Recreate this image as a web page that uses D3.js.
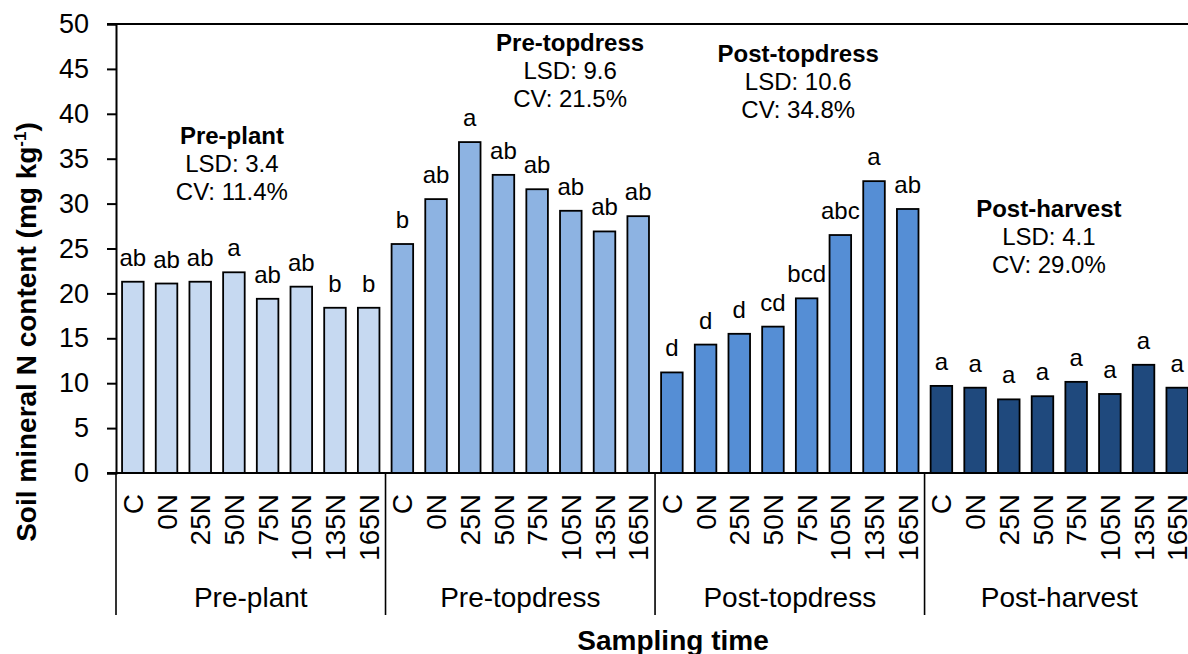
<!DOCTYPE html>
<html>
<head>
<meta charset="utf-8">
<script src="https://cdn.jsdelivr.net/npm/d3@7/dist/d3.min.js"></script>
<style>
  html, body { margin: 0; padding: 0; background: #fff; }
  svg { display: block; font-family: "Liberation Sans", Arial, sans-serif; }
</style>
</head>
<body>
<svg id="chart" width="1188" height="654"></svg>
<script>
// ---------------- data ----------------
const groups = ["Pre-plant", "Pre-topdress", "Post-topdress", "Post-harvest"];
const treatments = ["C", "0N", "25N", "50N", "75N", "105N", "135N", "165N"];

const prePlant     = [21.3, 21.1, 21.3, 22.35, 19.4, 20.75, 18.4, 18.4];
const preTopdress  = [25.5, 30.5, 36.85, 33.2, 31.6, 29.2, 26.9, 28.6];
const postTopdress = [11.2, 14.3, 15.5, 16.3, 19.45, 26.5, 32.5, 29.4];
const postHarvest  = [9.7, 9.5, 8.2, 8.55, 10.15, 8.8, 12.05, 9.5];

const lettersPrePlant     = ["ab", "ab", "ab", "a", "ab", "ab", "b", "b"];
const lettersPreTopdress  = ["b", "ab", "a", "ab", "ab", "ab", "ab", "ab"];
const lettersPostTopdress = ["d", "d", "d", "cd", "bcd", "abc", "a", "ab"];
const lettersPostHarvest  = ["a", "a", "a", "a", "a", "a", "a", "a"];

const lsdValues = ["3.4", "9.6", "10.6", "4.1"];
const cvValues  = ["11.4%", "21.5%", "34.8%", "29.0%"];

const yTicks = [0, 5, 10, 15, 20, 25, 30, 35, 40, 45, 50];

const yTitle = "Soil mineral N content (mg kg";
const xTitle = "Sampling time";

// ---------------- styling / layout ----------------
const groupColors = ["#C6D9F1", "#8DB3E2", "#558ED5", "#1F497D"];
// annotation anchors in (category-slot units, y value) coordinates
const annAnchorSlot = [3.44, 13.48, 20.25, 27.69];
const annAnchorVal  = [36.6, 47.0, 45.8, 28.5];

const series = [prePlant, preTopdress, postTopdress, postHarvest];
const letters = [lettersPrePlant, lettersPreTopdress, lettersPostTopdress, lettersPostHarvest];

const rows = [];
groups.forEach((g, gi) => {
  treatments.forEach((t, ti) => {
    rows.push({ key: g + "|" + t, group: g, gi, treatment: t, value: series[gi][ti], letter: letters[gi][ti] });
  });
});

const svg = d3.select("#chart");
const mLeft = 116, mTop = 24, mBottom = 473;
const slot = 33.69;
const plotRight = mLeft + slot * rows.length;

const x = d3.scaleBand()
  .domain(rows.map(d => d.key))
  .range([mLeft, plotRight])
  .paddingInner(0.36)
  .paddingOuter(0.18);

const xSlot = d3.scaleLinear().domain([0, rows.length]).range([mLeft, plotRight]);

const y = d3.scaleLinear().domain([0, 50]).range([mBottom, mTop]);

// top border line at 50
svg.append("line")
  .attr("x1", mLeft - 9).attr("x2", 1188)
  .attr("y1", y(50)).attr("y2", y(50))
  .attr("stroke", "#000").attr("stroke-width", 2);

// bars
svg.append("g").selectAll("rect")
  .data(rows).join("rect")
  .attr("x", d => x(d.key))
  .attr("y", d => y(d.value))
  .attr("width", x.bandwidth())
  .attr("height", d => y(0) - y(d.value))
  .attr("fill", d => groupColors[d.gi])
  .attr("stroke", "#000")
  .attr("stroke-width", 1.8);

// letters
svg.append("g").selectAll("text")
  .data(rows).join("text")
  .attr("x", d => x(d.key) + x.bandwidth() / 2)
  .attr("y", d => y(d.value) - 16)
  .attr("text-anchor", "middle")
  .attr("font-size", 24)
  .attr("fill", "#000")
  .text(d => d.letter);

// y axis
const yAxis = d3.axisLeft(y).tickValues(yTicks).tickSize(9).tickPadding(18);
const yg = svg.append("g").attr("transform", `translate(${mLeft},0)`).call(yAxis);
yg.select(".domain").attr("stroke", "#000").attr("stroke-width", 2);
yg.selectAll(".tick line").attr("stroke", "#000").attr("stroke-width", 2);
yg.selectAll(".tick text").attr("font-size", 27).attr("font-family", "Liberation Sans, Arial, sans-serif").attr("fill", "#000");

// baseline
svg.append("line")
  .attr("x1", mLeft - 9).attr("x2", 1188)
  .attr("y1", y(0)).attr("y2", y(0))
  .attr("stroke", "#000").attr("stroke-width", 2);

// category labels (rotated)
const catFont = 28;
svg.append("g").selectAll("text")
  .data(rows).join("text")
  .attr("transform", d => `translate(${x(d.key) + x.bandwidth() / 2 + catFont * 0.36},494) rotate(-90)`)
  .attr("text-anchor", "end")
  .attr("font-size", catFont)
  .attr("fill", "#000")
  .text(d => d.treatment);

// group separators
const sepX = d3.range(groups.length + 1).map(i => xSlot(i * treatments.length));
svg.append("g").selectAll("line")
  .data(sepX).join("line")
  .attr("x1", d => d).attr("x2", d => d)
  .attr("y1", y(0)).attr("y2", 615)
  .attr("stroke", "#000").attr("stroke-width", 1.6);

// group labels
svg.append("g").selectAll("text")
  .data(groups).join("text")
  .attr("x", (d, i) => xSlot(i * treatments.length + treatments.length / 2))
  .attr("y", 607)
  .attr("text-anchor", "middle")
  .attr("font-size", 28)
  .attr("fill", "#000")
  .text(d => d);

// x title
svg.append("text")
  .attr("x", xSlot(rows.length / 2) + 18)
  .attr("y", 650)
  .attr("text-anchor", "middle")
  .attr("font-size", 28)
  .attr("font-weight", "bold")
  .text(xTitle);

// y title
const yt = svg.append("text")
  .attr("transform", "translate(36,332) rotate(-90)")
  .attr("text-anchor", "middle")
  .attr("font-size", 28)
  .attr("font-weight", "bold");
yt.append("tspan").text(yTitle);
yt.append("tspan").attr("font-size", 17).attr("dy", -10).text("-1");
yt.append("tspan").attr("dy", 10).text(")");

// annotations
groups.forEach((g, i) => {
  const ax = xSlot(annAnchorSlot[i]);
  const ay = y(annAnchorVal[i]);
  const t = svg.append("text").attr("text-anchor", "middle").attr("font-size", 24).attr("fill", "#000");
  t.append("tspan").attr("x", ax).attr("y", ay).attr("font-weight", "bold").text(g);
  t.append("tspan").attr("x", ax).attr("y", ay + 28).text("LSD: " + lsdValues[i]);
  t.append("tspan").attr("x", ax).attr("y", ay + 56).text("CV: " + cvValues[i]);
});
</script>
</body>
</html>
